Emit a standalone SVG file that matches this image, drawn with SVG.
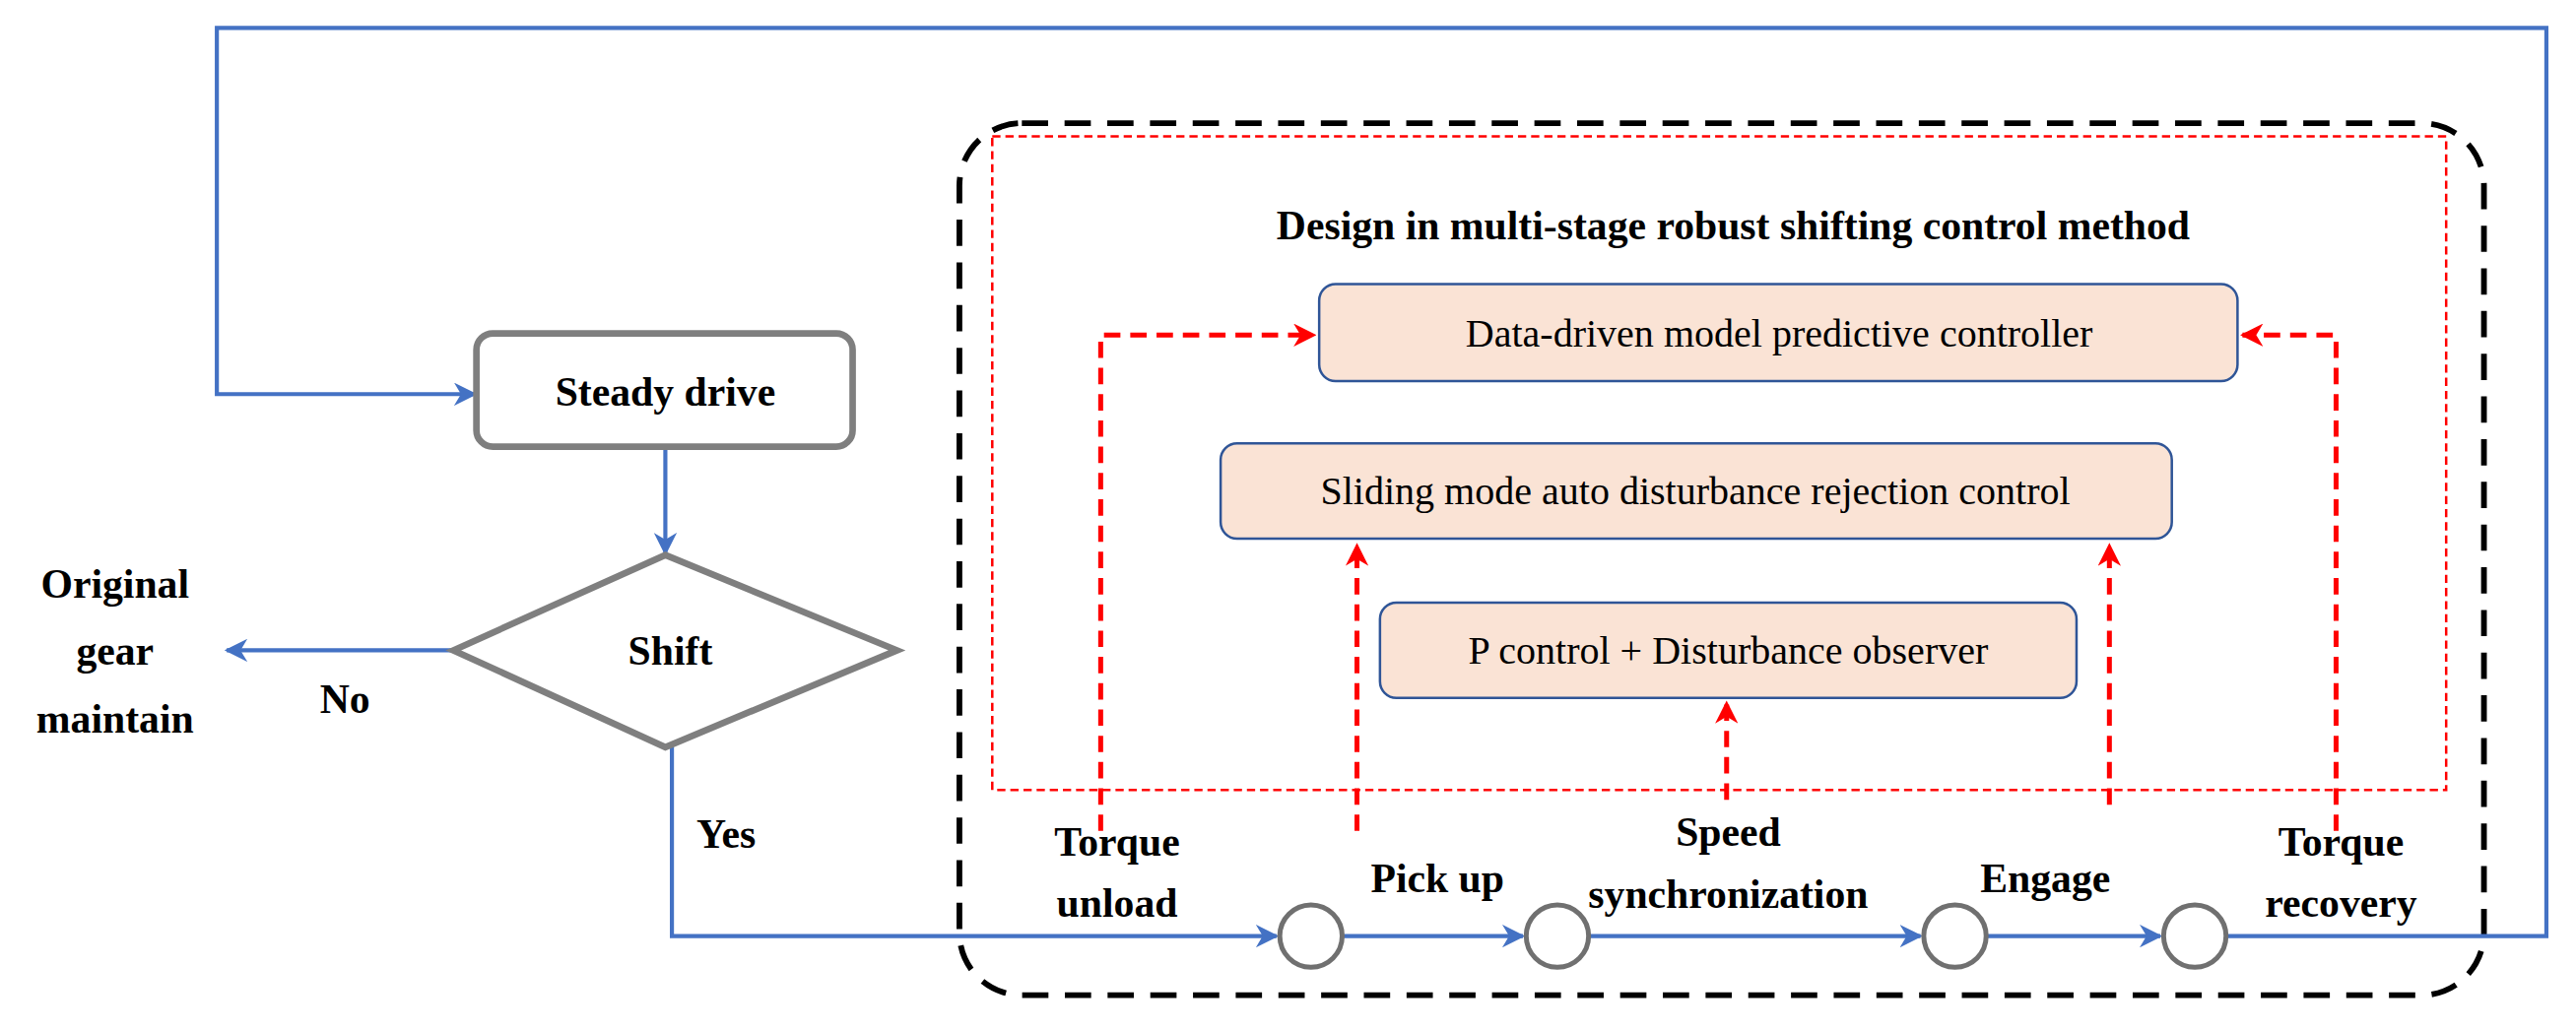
<svg xmlns="http://www.w3.org/2000/svg" width="2615" height="1046" viewBox="0 0 2615 1046">
<defs>
<style>
.b{fill:none;stroke:#4472C4;stroke-width:2.5}
.r{fill:none;stroke:#FF0000;stroke-width:3;stroke-dasharray:10 6}
.bx{fill:#FAE3D5;stroke:#2F5597;stroke-width:1.5}
.t{font-family:"Liberation Serif",serif;font-size:24px;fill:#000}
.lb{font-family:"Liberation Serif",serif;font-size:25px;font-weight:bold;fill:#000}
.c{fill:#fff;stroke:#707070;stroke-width:3}
</style>
<marker id="ab" viewBox="0 0 10 10" refX="9" refY="5" markerWidth="14" markerHeight="14" orient="auto" markerUnits="userSpaceOnUse"><path d="M0,0 L10,5 L0,10 L3,5 Z" fill="#4472C4"/></marker>
<marker id="ar" viewBox="0 0 10 10" refX="9" refY="5" markerWidth="14" markerHeight="14" orient="auto" markerUnits="userSpaceOnUse"><path d="M0,0 L10,5 L0,10 L3,5 Z" fill="#FF0000"/></marker>
</defs>
<rect width="2615" height="1046" fill="#fff"/>
<g transform="scale(1.6677)">
<g id="frames">
<rect x="584" y="75" width="928" height="531" rx="38" fill="none" stroke="#000" stroke-width="3.5" stroke-dasharray="16 10"/>
<rect x="604" y="83" width="885" height="398" fill="none" stroke="#FF0000" stroke-width="1.5" stroke-dasharray="5 3"/>
<text class="lb" x="1055" y="146" text-anchor="middle" font-size="27">Design in multi-stage robust shifting control method</text>
</g>
<g id="connectors">
<path class="b" d="M1336,570 H1550 V17 H132 V240 H289" marker-end="url(#ab)"/>
<path class="b" d="M405,272 V337" marker-end="url(#ab)"/>
<path class="b" d="M276,396 H138" marker-end="url(#ab)"/>
<path class="b" d="M409,455 V570 H777" marker-end="url(#ab)"/>
<path class="b" d="M818,570 H927" marker-end="url(#ab)"/>
<path class="b" d="M968,570 H1169" marker-end="url(#ab)"/>
<path class="b" d="M1210,570 H1315" marker-end="url(#ab)"/>
<path class="r" d="M670,506 V204 H800" marker-end="url(#ar)"/>
<path class="r" d="M1422,506 V204 H1365" marker-end="url(#ar)"/>
<path class="r" d="M826,506 V332" marker-end="url(#ar)"/>
<path class="r" d="M1284,490 V332" marker-end="url(#ar)"/>
<path class="r" d="M1051,487 V428" marker-end="url(#ar)"/>
</g>
<g id="steady"><rect x="290" y="203" width="229" height="69" rx="10" fill="#fff" stroke="#7F7F7F" stroke-width="4"/><text class="lb" x="405" y="247" text-anchor="middle">Steady drive</text></g>
<g id="shift"><polygon points="405,338 546,396 405,455 276,396" fill="#fff" stroke="#7F7F7F" stroke-width="4"/><text class="lb" x="408" y="405" text-anchor="middle">Shift</text></g>
<g id="orig"><text class="lb" x="70" y="364" text-anchor="middle">Original</text><text class="lb" x="70" y="405" text-anchor="middle">gear</text><text class="lb" x="70" y="446" text-anchor="middle">maintain</text></g>
<text class="lb" x="210" y="434" text-anchor="middle">No</text>
<text class="lb" x="442" y="516" text-anchor="middle">Yes</text>
<g id="dd"><rect class="bx" x="803" y="173" width="559" height="59" rx="10"/><text class="t" x="1083" y="211" text-anchor="middle">Data-driven model predictive controller</text></g>
<g id="sm"><rect class="bx" x="743" y="270" width="579" height="58" rx="10"/><text class="t" x="1032" y="307" text-anchor="middle">Sliding mode auto disturbance rejection control</text></g>
<g id="pc"><rect class="bx" x="840" y="367" width="424" height="58" rx="10"/><text class="t" x="1052" y="404" text-anchor="middle">P control + Disturbance observer</text></g>
<g id="circles"><circle class="c" cx="798" cy="570" r="19"/><circle class="c" cx="948" cy="570" r="19"/><circle class="c" cx="1190" cy="570" r="19"/><circle class="c" cx="1336" cy="570" r="19"/></g>
<g id="labels">
<text class="lb" x="680" y="521" text-anchor="middle">Torque</text><text class="lb" x="680" y="558" text-anchor="middle">unload</text>
<text class="lb" x="875" y="543" text-anchor="middle">Pick  up</text>
<text class="lb" x="1052" y="515" text-anchor="middle">Speed</text><text class="lb" x="1052" y="553" text-anchor="middle">synchronization</text>
<text class="lb" x="1245" y="543" text-anchor="middle">Engage</text>
<text class="lb" x="1425" y="521" text-anchor="middle">Torque</text><text class="lb" x="1425" y="558" text-anchor="middle">recovery</text>
</g>
</g>
</svg>
